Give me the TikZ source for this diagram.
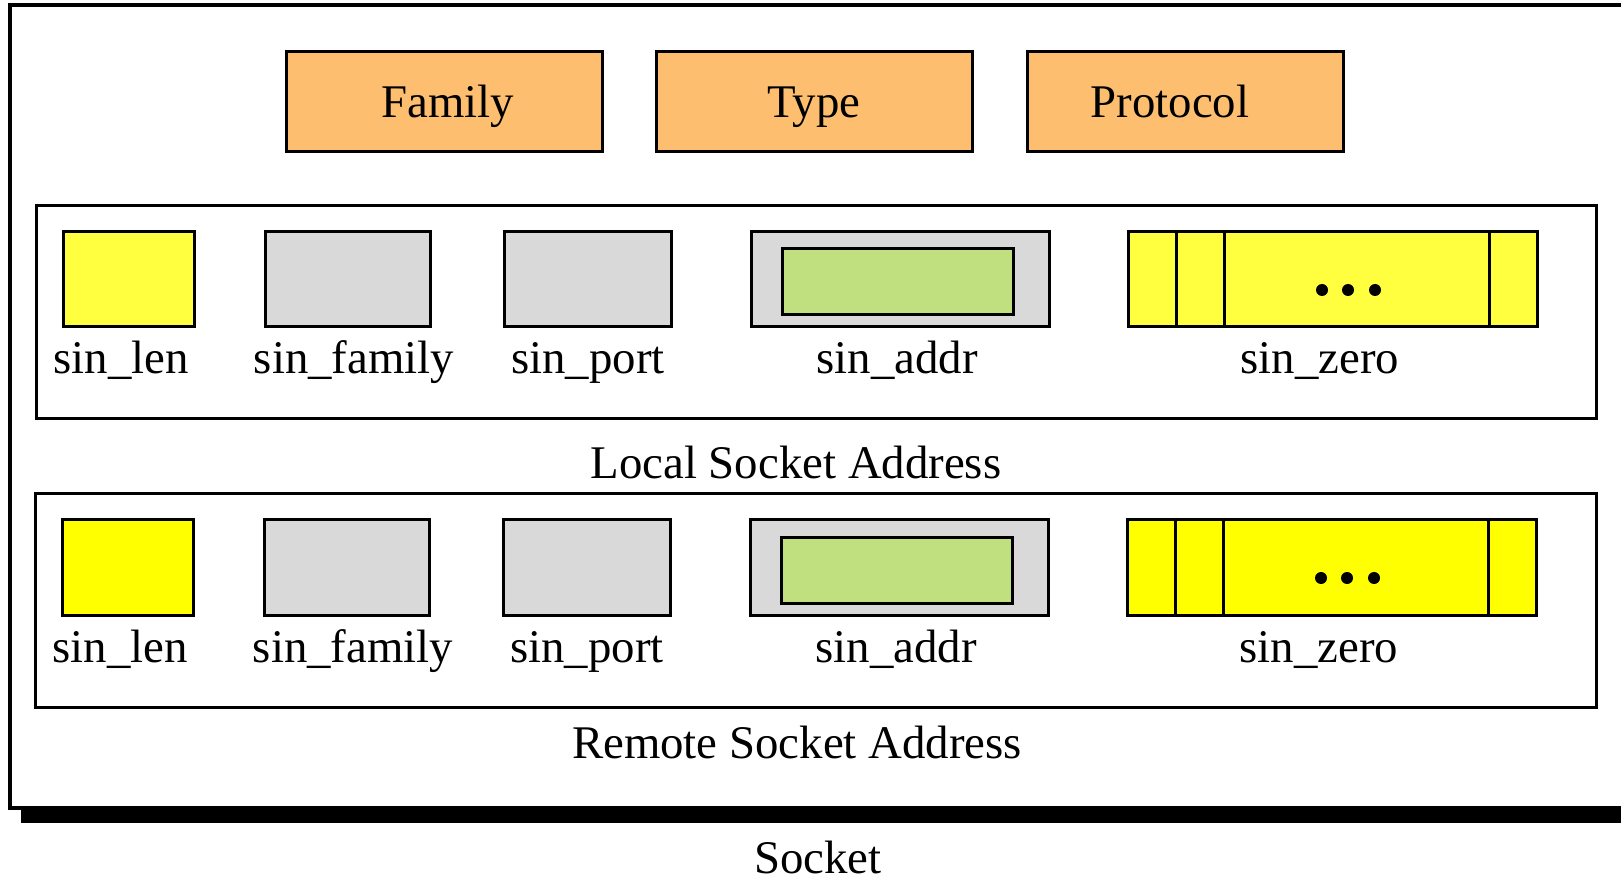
\documentclass[tikz,border=0pt]{standalone}
\usepackage{fontspec}
\setmainfont{Liberation Serif}
\definecolor{orangeF}{HTML}{FDBF6F}
\definecolor{yelA}{HTML}{FFFF40}
\definecolor{yelB}{HTML}{FFFF00}
\definecolor{grayF}{HTML}{D9D9D9}
\definecolor{greenF}{HTML}{C0E080}
\begin{document}
\begin{tikzpicture}[x=0.5pt,y=-0.5pt,
  every node/.style={inner sep=0pt, outer sep=0pt},
  txt/.style={font=\fontsize{23.4}{28}\selectfont},
  field/.style={draw, line width=1.5pt, minimum height=47.5pt},
  hdr/.style={draw, line width=1.5pt, fill=orangeF, minimum width=158pt,
    minimum height=50pt, text height=16pt, text depth=0pt, txt},
  lbl/.style={anchor=base, txt},
  frame/.style={draw, line width=1.5pt, minimum height=106.5pt}
]
\useasboundingbox (0,0) rectangle (1621,881);
\clip (0,0) rectangle (1621,881);

% socket outline with its drop shadow
\fill[black] (21,20) rectangle (1700,823);
\node[draw, line width=1.8pt, fill=white, minimum width=845pt, minimum height=401.5pt]
  (sock) at (855,406.5) {};
\node[lbl] (sockT) at (818,873) {Socket};

% header fields
\node[hdr] (fam)  at (444,102)  {\hspace*{4pt}Family};
\node[hdr] (type) at (814,102)  {Type};
\node[hdr] (prot) at (1185,102) {Protocol\hspace*{15pt}};

% the two socket address structures
\foreach \r/\dy/\dx/\yc/\fx/\fw in {L/0/0/yelA/816/780pt, R/288/-1/yelB/815.5/780.5pt}{
  \node[frame, minimum width=\fw] (frame\r) at (\fx,{312.5+\dy}) {};
  \node[field, fill=\yc, minimum width=65.5pt] (len\r) at ({128.5+\dx},{279.5+\dy}) {};
  \node[field, fill=grayF, minimum width=82.5pt] (family\r) at ({347.5+\dx},{279.5+\dy}) {};
  \node[field, fill=grayF, minimum width=83.5pt] (port\r) at ({587.5+\dx},{279.5+\dy}) {};
  \node[field, fill=grayF, minimum width=149pt] (addr\r) at ({900+\dx},{279.5+\dy}) {};
  \node[draw, line width=1.5pt, fill=greenF, minimum width=115.5pt, minimum height=33pt]
    (ip\r) at ({897.5+\dx},{282+\dy}) {};
  \node[field, fill=\yc, minimum width=204.5pt] (zero\r) at ({1332.5+\dx},{279.5+\dy}) {};
  \foreach \px in {1176,1224,1489}
    \draw[line width=1.5pt] ({\px+\dx},{232+\dy}) -- ({\px+\dx},{327+\dy});
  \foreach \px in {1322,1348,1375}
    \fill ({\px+\dx},{290+\dy}) circle[radius=3pt];
  \node[lbl] (lenT\r)    at ({121+\dx},{374+\dy}) {sin\_len};
  \node[lbl] (familyT\r) at ({354+\dx},{374+\dy}) {sin\_family};
  \node[lbl] (portT\r)   at ({588+\dx},{374+\dy}) {sin\_port};
  \node[lbl] (addrT\r)   at ({897+\dx},{374+\dy}) {sin\_addr};
  \node[lbl] (zeroT\r)   at ({1320+\dx},{374+\dy}) {sin\_zero};
}
\node[lbl] (localT)  at (796,479) {Local Socket Address};
\node[lbl] (remoteT) at (797,758) {Remote Socket Address};
\end{tikzpicture}
\end{document}
